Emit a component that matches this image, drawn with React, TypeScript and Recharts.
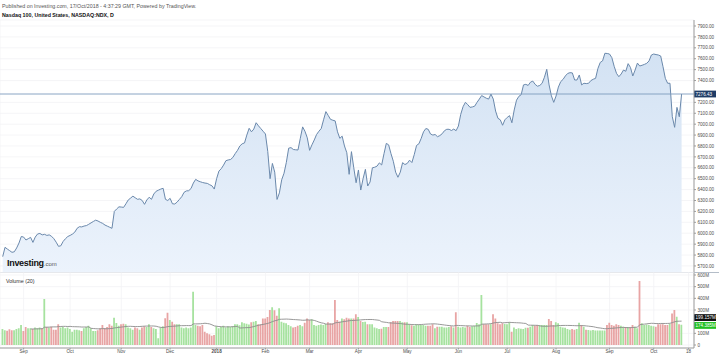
import React from 'react';
import {
  ComposedChart,
  Area,
  Bar,
  Line,
  Cell,
  XAxis,
  YAxis,
  CartesianGrid,
  ReferenceLine,
} from 'recharts';

// trading-day index of each month label on the time axis
const monthTicks = [9, 29, 51, 72, 92, 113, 132, 153, 174, 196, 217, 238, 261, 280, 295];
const monthLabels = ['Sep', 'Oct', 'Nov', 'Dec', '2018', 'Feb', 'Mar', 'Apr', 'May', 'Jun', 'Jul', 'Aug', 'Sep', 'Oct', '18'];

// 7300 and 200M sit under the last-value boxes, so they are not shown
const priceTicks = [5700, 5800, 5900, 6000, 6100, 6200, 6300, 6400, 6500, 6600, 6700, 6800, 6900, 7000, 7100, 7200, 7400, 7500, 7600, 7700, 7800, 7900];
const volumeTicks = [0, 100, 300, 400, 500, 600];

// NASDAQ 100 daily close, Aug 2017 - Oct 2018
const closes = [
  5785, 5871, 5855, 5840, 5825, 5830, 5865, 5910, 5970, 5965,
  5938, 5950, 5962, 5916, 5965, 5993, 5998, 5985, 5990, 5980,
  5985, 5972, 5950, 5918, 5880, 5885, 5925, 5950, 5970, 5980,
  5992, 6010, 6045, 6060, 6058, 6066, 6070, 6082, 6095, 6108,
  6120, 6112, 6100, 6090, 6075, 6065, 6055, 6045, 6200, 6222,
  6242, 6240, 6237, 6270, 6305, 6322, 6340, 6325, 6311, 6315,
  6300, 6265, 6305, 6330, 6311, 6360, 6385, 6395, 6405, 6412,
  6311, 6300, 6320, 6270, 6268, 6285, 6310, 6335, 6375, 6388,
  6390, 6410, 6460, 6494, 6480, 6472, 6465, 6460, 6457, 6445,
  6435, 6405, 6500, 6570, 6592, 6625, 6665, 6672, 6676, 6695,
  6730, 6760, 6800, 6820, 6828, 6900, 6962, 6930, 6955, 7013,
  6985, 6960, 6935, 6910, 6750, 6500, 6640, 6560, 6310, 6370,
  6490, 6550, 6650, 6780, 6785, 6768, 6765, 6763, 6870, 6975,
  6935, 6875, 6760, 6810, 6855, 6905, 6935, 6960, 7040, 7115,
  7080, 7044, 7036, 7030, 6930, 6870, 6890, 6800, 6738, 6540,
  6748, 6600, 6463, 6580, 6396, 6500, 6586, 6433, 6470, 6600,
  6605, 6615, 6645, 6626, 6730, 6824, 6810, 6730, 6660, 6560,
  6513, 6560, 6647, 6630, 6640, 6670, 6648, 6720, 6805, 6820,
  6870, 6930, 6960, 6953, 6910, 6900, 6905, 6885, 6895, 6912,
  6940, 6953, 6953, 6942, 6955, 6940, 6983, 7090, 7160, 7200,
  7180, 7154, 7158, 7165, 7200, 7230, 7262, 7250, 7238, 7230,
  7276, 7230, 7120, 7054, 7040, 6990, 7040, 7062, 7078, 7013,
  7130, 7220, 7255, 7270, 7360, 7365, 7355, 7385, 7395, 7365,
  7348, 7355, 7375, 7430, 7503, 7360, 7260, 7200, 7258, 7340,
  7390, 7410, 7442, 7465, 7472, 7470, 7405, 7405, 7451, 7360,
  7375, 7372, 7375, 7400, 7412, 7420, 7510, 7566, 7580, 7650,
  7648, 7643, 7610, 7530, 7466, 7435, 7460, 7496, 7485, 7555,
  7520, 7442, 7496, 7560, 7533, 7540, 7548, 7558, 7580, 7634,
  7643, 7638, 7634, 7625, 7527, 7420, 7375, 7375, 7068, 6971,
  7154, 7068, 7276.43,
];

// daily volume, millions
const volumes = [
  137, 126, 123, 134, 126, 126, 137, 143, 171, 120,
  154, 143, 143, 137, 151, 143, 149, 143, 394, 154,
  149, 157, 131, 131, 177, 149, 154, 143, 149, 137,
  114, 131, 131, 126, 120, 143, 154, 166, 143, 120,
  120, 126, 143, 171, 143, 154, 177, 166, 234, 189,
  166, 177, 183, 177, 149, 143, 131, 149, 143, 131,
  149, 160, 154, 177, 154, 143, 137, 57, 150, 160,
  230, 277, 214, 200, 177, 177, 177, 149, 143, 149,
  143, 149, 457, 171, 165, 160, 171, 114, 100, 92,
  80, 86, 160, 143, 155, 166, 149, 160, 155, 160,
  177, 177, 170, 194, 186, 183, 175, 194, 200, 205,
  177, 177, 228, 228, 240, 300, 323, 297, 251, 314,
  200, 190, 186, 171, 160, 149, 155, 165, 171, 160,
  190, 228, 214, 220, 171, 165, 171, 175, 171, 180,
  194, 186, 186, 386, 214, 200, 228, 220, 234, 228,
  228, 228, 263, 240, 206, 197, 200, 177, 177, 177,
  149, 143, 137, 140, 154, 154, 154, 194, 206, 206,
  206, 206, 194, 194, 194, 177, 170, 166, 177, 171,
  171, 171, 166, 166, 166, 177, 143, 157, 157, 157,
  149, 150, 155, 160, 150, 280, 157, 149, 155, 150,
  166, 154, 160, 166, 189, 177, 428, 177, 177, 177,
  177, 263, 228, 186, 177, 186, 180, 177, 194, 114,
  149, 137, 143, 140, 137, 148, 148, 157, 171, 165,
  171, 171, 171, 171, 171, 223, 206, 171, 194, 186,
  157, 150, 148, 137, 131, 137, 131, 137, 191, 171,
  157, 131, 128, 125, 128, 125, 125, 125, 125, 125,
  171, 191, 171, 165, 177, 171, 165, 157, 154, 154,
  154, 171, 157, 143, 548, 186, 171, 175, 171, 166,
  160, 157, 177, 177, 177, 171, 171, 180, 271, 300,
  243, 177, 174.385,
];

const lastClose = 7276.43;
const lastVolume = 174.385;
const volumeMa = 199.157;

const MA_LEN = 20;

const chartData = closes.map((close, i) => {
  const from = Math.max(0, i - MA_LEN + 1);
  const win = volumes.slice(from, i + 1);
  return {
    i,
    close,
    volume: volumes[i],
    up: i === 0 || close >= closes[i - 1],
    ma: i >= 12 ? win.reduce((a, b) => a + b, 0) / win.length : null,
  };
});

const FONT = 'Arial, "Liberation Sans", sans-serif';
const X_DOMAIN: [number, number] = [-1.16, 297.33];
const axisText = { fontSize: 4.6, fill: '#4d4d4d', fontFamily: FONT };

const TimeTick = (props: any) => {
  const { x, y, payload } = props;
  const label = monthLabels[monthTicks.indexOf(payload.value)];
  return (
    <text x={x} y={y} dy={3.2} textAnchor="middle" fontSize={4.6} fill="#4d4d4d"
      fontFamily={FONT} fontWeight={label === '2018' ? 'bold' : 'normal'}>
      {label}
    </text>
  );
};

const boxLabel = (text: string, bg: string, shift = 0) => (props: any) => {
  const { viewBox } = props;
  const x = viewBox.x + viewBox.width;
  const y = viewBox.y + shift;
  return (
    <g>
      <rect x={x} y={y - 3.4} width={22} height={6.8} fill={bg} />
      <text x={x + 1.5} y={y + 1.6} fontSize={4.6} fill="#fff" fontFamily={FONT}>{text}</text>
    </g>
  );
};

export default function App() {
  return (
    <div style={{ position: 'absolute', left: 0, top: 0, width: 719, height: 358, background: '#fff', overflow: 'hidden', fontFamily: FONT }}>
      <div style={{ position: 'absolute', left: 2, top: 4, fontSize: 5.3, lineHeight: '5.3px', color: '#555', whiteSpace: 'nowrap' }}>
        Published on Investing.com, 17/Oct/2018 - 4:37:29 GMT, Powered by TradingView.
      </div>
      <div style={{ position: 'absolute', left: 2, top: 13, fontSize: 5.3, lineHeight: '5.3px', color: '#111', fontWeight: 'bold', whiteSpace: 'nowrap' }}>
        Nasdaq 100, United States, NASDAQ:NDX, D
      </div>

      <div style={{ position: 'absolute', left: 0, top: 0 }}>
        <ComposedChart width={719} height={273} data={chartData} margin={{ top: 20, right: 0, bottom: 0.5, left: 0 }}>
          <defs>
            <linearGradient id="priceFill" x1="0" y1="0" x2="0" y2="1">
              <stop offset="0%" stopColor="#d3e2f3" />
              <stop offset="100%" stopColor="#ecf3fc" />
            </linearGradient>
          </defs>
          <CartesianGrid stroke="#f2f3f5" strokeWidth={0.8} />
          <XAxis dataKey="i" type="number" domain={X_DOMAIN} allowDataOverflow ticks={monthTicks}
            interval={0} height={0} tick={false} axisLine={false} tickLine={false} />
          <YAxis orientation="right" width={25} domain={[5640, 7955]} allowDataOverflow ticks={priceTicks}
            interval={0} tickFormatter={(v: number) => v.toFixed(2)} tick={axisText}
            tickSize={2} tickMargin={1.5} axisLine={{ stroke: '#9c9c9c' }} tickLine={{ stroke: '#9c9c9c' }} />
          <Area type="linear" dataKey="close" stroke="#6a88ab" strokeWidth={1} fill="url(#priceFill)"
            fillOpacity={1} dot={false} activeDot={false} isAnimationActive={false} />
          <ReferenceLine y={lastClose} stroke="#7d9bbd" strokeWidth={0.9}
            label={boxLabel(lastClose.toFixed(2), '#1f3c66')} />
        </ComposedChart>
      </div>

      <div style={{ position: 'absolute', left: 7, top: 258, fontSize: 9, fontWeight: 'bold', color: '#111', letterSpacing: -0.3, whiteSpace: 'nowrap' }}>
        Investing<span style={{ fontSize: 6, fontWeight: 'normal', color: '#555', letterSpacing: 0 }}>.com</span>
      </div>

      <div style={{ position: 'absolute', left: 0, top: 272, width: 719, height: 1, background: '#b4bdc8' }} />

      <div style={{ position: 'absolute', left: 0, top: 272 }}>
        <ComposedChart width={719} height={86} data={chartData} margin={{ top: 0.5, right: 0, bottom: 0, left: 0 }}>
          <CartesianGrid stroke="#f2f3f5" strokeWidth={0.8} />
          <XAxis dataKey="i" type="number" domain={X_DOMAIN} allowDataOverflow ticks={monthTicks}
            interval={0} height={10} tick={<TimeTick />} tickSize={1.5} tickMargin={0}
            axisLine={{ stroke: '#9c9c9c' }} tickLine={{ stroke: '#9c9c9c' }} />
          <YAxis orientation="right" width={25} domain={[-25.7, 621.4]} allowDataOverflow ticks={volumeTicks}
            interval={0} tickFormatter={(v: number) => (v === 0 ? '0' : `${v}M`)} tick={axisText}
            tickSize={2} tickMargin={1.5} axisLine={{ stroke: '#9c9c9c' }} tickLine={{ stroke: '#9c9c9c' }} />
          <Bar dataKey="volume" barSize={1.8} isAnimationActive={false}>
            {chartData.map((d) => (
              <Cell key={d.i} fill={d.up ? '#a6e29f' : '#e8a4a4'} />
            ))}
          </Bar>
          <Line type="linear" dataKey="ma" stroke="#8c8c8c" strokeWidth={0.9} dot={false}
            activeDot={false} connectNulls={false} isAnimationActive={false} />
          <ReferenceLine y={lastVolume} stroke="none" label={boxLabel(`${lastVolume.toFixed(3)}M`, '#22c022', 0.8)} />
          <ReferenceLine y={volumeMa} stroke="none" label={boxLabel(`${volumeMa.toFixed(3)}M`, '#0d0d0d', -4.2)} />
        </ComposedChart>
      </div>

      <div style={{ position: 'absolute', left: 6, top: 278, fontSize: 5.3, color: '#333', whiteSpace: 'nowrap' }}>
        Volume (20)
      </div>
    </div>
  );
}
